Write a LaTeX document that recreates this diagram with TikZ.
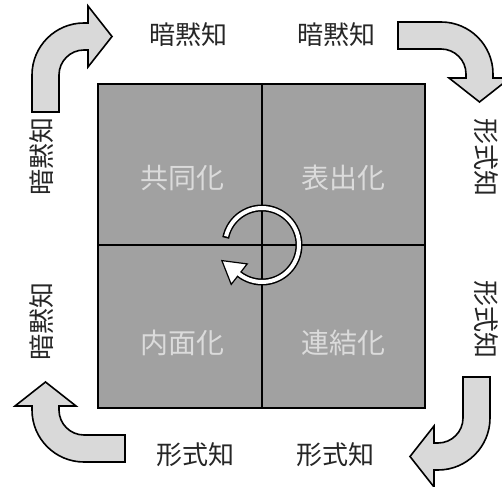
\documentclass[tikz,border=0pt]{standalone}
\usepackage{fontspec}
\newfontfamily\jp{Noto Sans CJK JP}
\usetikzlibrary{calc}

\tikzset{
  blockarrow/.style={draw=black, line width=1.6pt, fill=black!15, line join=miter},
  outerlabel/.style={font=\jp\fontsize{26}{26}\selectfont, inner sep=0pt, text=black!85},
  quadlabel/.style={font=\jp\fontsize{28}{28}\selectfont, text=black!14, inner sep=0pt},
  quadbox/.style={draw=black, line width=1.8pt, fill=black!37},
  divider/.style={draw=black, line width=1.6pt},
}

\newcommand\bentarrow[4]{%
  \begin{scope}[shift={(#1,#2)}, rotate=#3]
    \draw[blockarrow] (0,-#4) -- (0,-52) arc[start angle=180, end angle=90, radius=52]
      -- (56,0) -- (56,17) -- (80,-13.5) -- (56,-44) -- (56,-27) -- (52,-27)
      arc[start angle=90, end angle=180, radius=25] -- (27,-#4) -- cycle;
  \end{scope}}

\begin{document}
\begin{tikzpicture}[x=1pt, y=1pt]
  \useasboundingbox (0,0) rectangle (502,486);

  % corner arrows
  \bentarrow{32}{463}{0}{89}
  \bentarrow{493}{464}{-90}{95}
  \bentarrow{490}{16}{180}{93}
  \bentarrow{32}{24}{90}{93}

  % central square
  \draw[quadbox] (98,78) rectangle (425,402);
  \coordinate (top) at (262,402);
  \coordinate (bot) at (262,78);
  \coordinate (lft) at (98,241);
  \coordinate (rgt) at (425,241);
  \draw[divider] (top) -- (bot);
  \draw[divider] (lft) -- (rgt);

  % quadrant labels
  \node[quadlabel] (q1) at (182,308) {共同化};
  \node[quadlabel] (q2) at (343,308) {表出化};
  \node[quadlabel] (q3) at (182,143) {内面化};
  \node[quadlabel] (q4) at (343,143) {連結化};

  % cycle ring
  \coordinate (C) at (262,241);
  \draw[line width=7pt, black] ($(C)+(169:37)$) arc[start angle=169, end angle=-128, radius=37];
  \draw[fill=white, draw=black, line width=1.2pt, line join=miter]
    ($(C)+(-128:24)$) -- ($(C)+(-128:37)+(142:22)$) -- ($(C)+(-128:50)$) -- cycle;
  \draw[line width=4pt, white] ($(C)+(166.5:37)$) arc[start angle=166.5, end angle=-130, radius=37];

  % outer labels
  \node[outerlabel] (t1) at (188,451) {暗黙知};
  \node[outerlabel] (t2) at (336,451) {暗黙知};
  \node[outerlabel] (b1) at (195,31) {形式知};
  \node[outerlabel] (b2) at (335,31) {形式知};
  \node[outerlabel, rotate=90] (l1) at (42,329) {暗黙知};
  \node[outerlabel, rotate=90] (l2) at (42,164) {暗黙知};
  \node[outerlabel, rotate=-90] (r1) at (486,328) {形式知};
  \node[outerlabel, rotate=-90] (r2) at (486,166) {形式知};
\end{tikzpicture}
\end{document}
